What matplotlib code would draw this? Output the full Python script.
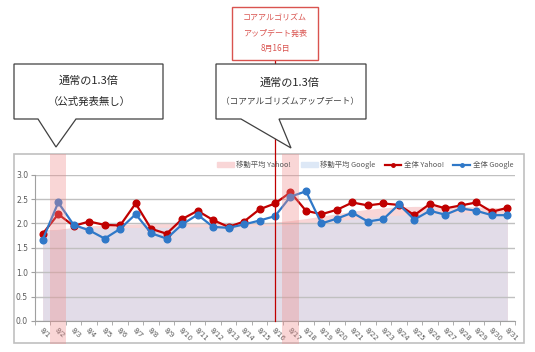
import matplotlib
matplotlib.use("Agg")
import matplotlib.pyplot as plt
from matplotlib.patches import Rectangle, Polygon
from matplotlib.lines import Line2D
from matplotlib.patches import Patch

plt.rcParams['font.family'] = ['Noto Sans CJK JP', 'DejaVu Sans']

dates = [f"8/{d}" for d in range(1, 32)]
yahoo = [1.79, 2.19, 1.95, 2.04, 1.97, 1.96, 2.41, 1.89, 1.79, 2.09, 2.26, 2.07, 1.93, 2.04, 2.29,
         2.41, 2.64, 2.26, 2.19, 2.28, 2.43, 2.37, 2.41, 2.38, 2.17, 2.40, 2.31, 2.37, 2.43, 2.24, 2.32]
google = [1.67, 2.43, 1.97, 1.86, 1.69, 1.89, 2.19, 1.80, 1.69, 1.98, 2.18, 1.93, 1.91, 1.98, 2.06,
          2.15, 2.55, 2.66, 2.00, 2.10, 2.22, 2.04, 2.09, 2.39, 2.08, 2.26, 2.18, 2.31, 2.26, 2.17, 2.17]
ma_yahoo = [1.87, 1.88, 1.92, 1.95, 1.97, 1.98, 1.99, 2.00, 2.00, 2.00, 2.00, 2.00, 2.00, 2.00, 2.01,
            2.03, 2.06, 2.10, 2.15, 2.20, 2.25, 2.29, 2.32, 2.34, 2.35, 2.35, 2.35, 2.35, 2.34, 2.33, 2.32]
ma_google = [1.86, 1.87, 1.90, 1.91, 1.91, 1.92, 1.92, 1.92, 1.92, 1.93, 1.93, 1.93, 1.94, 1.94, 1.95,
             1.96, 1.98, 2.00, 2.03, 2.06, 2.09, 2.12, 2.15, 2.17, 2.19, 2.20, 2.21, 2.22, 2.22, 2.21, 2.21]
yticks = [0.0, 0.5, 1.0, 1.5, 2.0, 2.5, 3.0]
highlight_idx = [1, 16]
update_idx = 15

W, H = 535, 352
fig = plt.figure(figsize=(W / 100, H / 100), dpi=100)

def fx(x):
    return x / W

def fy(y):
    return 1 - y / H

# chart border
fig.patches.append(Rectangle((fx(14), fy(343)), fx(524) - fx(14), fy(154) - fy(343),
                             transform=fig.transFigure, fill=False, ec='#c0c0c0', lw=1.2, zorder=-1))

ax = fig.add_axes([fx(35), fy(321), fx(515) - fx(35), fy(174.7) - fy(321)])
ax.patch.set_alpha(0)
x = list(range(len(dates)))

c_pink = '#f9d6d7'
c_lav = '#e2dce8'
c_ly = '#c00000'
c_lg = '#2f78c8'

ax.fill_between(x, 0, ma_yahoo, color=c_pink, lw=0, zorder=1)
ax.fill_between(x, 0, ma_google, color=c_lav, lw=0, zorder=1.1)
for yv in yticks:
    ax.axhline(yv, color='#c0c0c0', lw=1.0, zorder=1.5)

ax.plot(x, yahoo, color=c_ly, lw=1.6, marker='o', ms=4.8, zorder=3)
ax.plot(x, google, color=c_lg, lw=1.6, marker='o', ms=4.8, zorder=3.1)

ax.set_xlim(-0.5, len(dates) - 0.5)
ax.set_ylim(0, 3.0)
ax.set_yticks(yticks)
ax.set_yticklabels([f"{v:.1f}" for v in yticks], fontsize=5.5, color='#595959', family='DejaVu Sans')
ax.set_xticks(x)
ax.set_xticklabels(dates, fontsize=5.0, color='#595959', rotation=-45, ha='left',
                   rotation_mode='anchor', family='DejaVu Sans')
ax.tick_params(axis='x', length=0, pad=4)
ax.set_xticks([i - 0.5 for i in range(len(dates) + 1)], minor=True)
ax.tick_params(axis='x', which='minor', length=3, color='#a0a0a0')
ax.tick_params(axis='y', length=3, color='#a0a0a0', pad=2)
for s in ['top', 'right']:
    ax.spines[s].set_visible(False)
ax.spines['left'].set_color('#a0a0a0')
ax.spines['bottom'].set_color('#a0a0a0')
ax.spines['left'].set_zorder(2)
ax.spines['bottom'].set_zorder(2)

# highlight bands
ylo = (321 - 344) / 146.3
yhi = (321 - 154) / 146.3
for i in highlight_idx:
    ax.axvspan(i - 0.52, i + 0.52, ymin=ylo, ymax=yhi, color=(0.94, 0.55, 0.55), alpha=0.35,
               lw=0, clip_on=False, zorder=4)

# update line
ax.axvline(update_idx, ymin=0, ymax=(321 - 60) / 146.3, color='#c00000', lw=0.9,
           clip_on=False, zorder=3.5)

# legend
handles = [Patch(color='#f9d6d7', label='移動平均 Yahoo!'),
           Patch(color='#dde8f6', label='移動平均 Google'),
           Line2D([], [], color=c_ly, lw=1.6, marker='o', ms=2.5, label='全体 Yahoo!'),
           Line2D([], [], color=c_lg, lw=1.6, marker='o', ms=2.5, label='全体 Google')]
leg = fig.legend(handles=handles, loc='center', bbox_to_anchor=(fx(365), fy(165)), ncol=4,
                 frameon=False, fontsize=5.3, handlelength=2.3, handleheight=0.6,
                 columnspacing=1.3, handletextpad=0.3)
for t in leg.get_texts():
    t.set_color('#595959')

# callouts
def callout(L, R, T, B, bl, br, tip):
    verts = [(L, T), (R, T), (R, B), (br, B), tip, (bl, B), (L, B)]
    poly = Polygon([(fx(a), fy(b)) for a, b in verts], closed=True, transform=fig.transFigure,
                   fc='white', ec='#404040', lw=0.9, zorder=10)
    fig.patches.append(poly)

callout(14, 163, 64, 119, 38, 76, (56, 147))
fig.text(fx(89), fy(81), '通常の1.3倍', fontsize=8, ha='center', va='center', color='#262626', zorder=11)
fig.text(fx(89), fy(102), '（公式発表無し）', fontsize=7.5, ha='center', va='center', color='#262626', zorder=11)

callout(216, 366, 64, 119, 241, 279, (291, 148))
fig.text(fx(290), fy(83), '通常の1.3倍', fontsize=8, ha='center', va='center', color='#262626', zorder=11)
fig.text(fx(290), fy(102), '（コアアルゴリズムアップデート）', fontsize=6.2, ha='center', va='center', color='#404040', zorder=11)

fig.patches.append(Rectangle((fx(232), fy(60)), fx(318) - fx(232), fy(6.7) - fy(60),
                             transform=fig.transFigure, fc='white', ec='#d9534f', lw=1.0, zorder=10))
for yy, s in [(17, 'コアアルゴリズム'), (33, 'アップデート発表'), (48, '8月16日')]:
    fig.text(fx(275), fy(yy), s, fontsize=5.8, ha='center', va='center', color='#d9534f', zorder=11)

fig.savefig('out.png', dpi=100)
